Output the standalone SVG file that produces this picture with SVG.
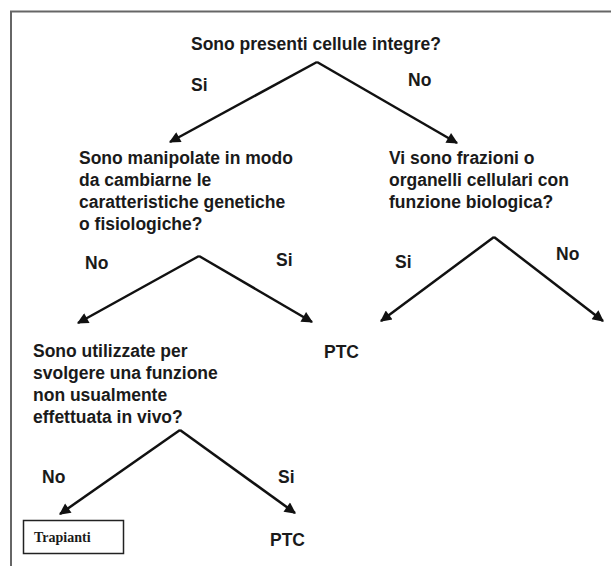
<svg xmlns="http://www.w3.org/2000/svg" width="611" height="566" viewBox="0 0 611 566">
<style>
.t{font-family:"Liberation Sans",Arial,sans-serif;font-weight:bold;font-size:17.5px;fill:#1a1a1a}
.e{stroke:#111;stroke-width:2.5;fill:none;marker-end:url(#ah)}
.f{stroke:#666;stroke-width:2;fill:none}
</style>
<defs>
<marker id="ah" viewBox="0 0 10 10" refX="9" refY="5" markerWidth="5" markerHeight="4.5" orient="auto" markerUnits="strokeWidth">
<path d="M0,0 L10,5 L0,10 z" fill="#111"/>
</marker>
</defs>
<rect width="611" height="566" fill="#fff"/>
<g id="frame">
<path class="f" d="M11,566 V11.5 H611"/>
</g>
<g id="connectors">
<path class="e" d="M317,62 L170,142"/>
<path class="e" d="M317,62 L457,143"/>
<path class="e" d="M199,256 L78,323"/>
<path class="e" d="M199,256 L312,322"/>
<path class="e" d="M494,237 L381,321"/>
<path class="e" d="M494,237 L603,321"/>
<path class="e" d="M180,430 L60,514"/>
<path class="e" d="M180,430 L295,513"/>
<text class="t" x="191" y="91">Si</text>
<text class="t" x="408" y="86">No</text>
<text class="t" x="85" y="269">No</text>
<text class="t" x="276" y="266">Si</text>
<text class="t" x="395" y="268">Si</text>
<text class="t" x="556" y="260">No</text>
<text class="t" x="42" y="483">No</text>
<text class="t" x="278" y="483">Si</text>
</g>
<g id="q1">
<text class="t" x="191" y="50">Sono presenti cellule integre?</text>
</g>
<g id="q2">
<text class="t" x="79" y="164">Sono manipolate in modo</text>
<text class="t" x="79" y="186">da cambiarne le</text>
<text class="t" x="79" y="208">caratteristiche genetiche</text>
<text class="t" x="79" y="230">o fisiologiche?</text>
</g>
<g id="q3">
<text class="t" x="389" y="164">Vi sono frazioni o</text>
<text class="t" x="389" y="186">organelli cellulari con</text>
<text class="t" x="389" y="208">funzione biologica?</text>
</g>
<g id="ptc1">
<text class="t" x="324" y="358">PTC</text>
</g>
<g id="q4">
<text class="t" x="33" y="357">Sono utilizzate per</text>
<text class="t" x="33" y="379">svolgere una funzione</text>
<text class="t" x="33" y="401">non usualmente</text>
<text class="t" x="33" y="423">effettuata in vivo?</text>
</g>
<g id="trapianti">
<rect x="23.5" y="520.5" width="100" height="33" fill="#fff" stroke="#222" stroke-width="1.5"/>
<text x="34" y="542" style="font-family:'Liberation Serif','Times New Roman',serif;font-weight:bold;font-size:14px;fill:#1a1a1a">Trapianti</text>
</g>
<g id="ptc2">
<text class="t" x="270" y="546">PTC</text>
</g>
</svg>
